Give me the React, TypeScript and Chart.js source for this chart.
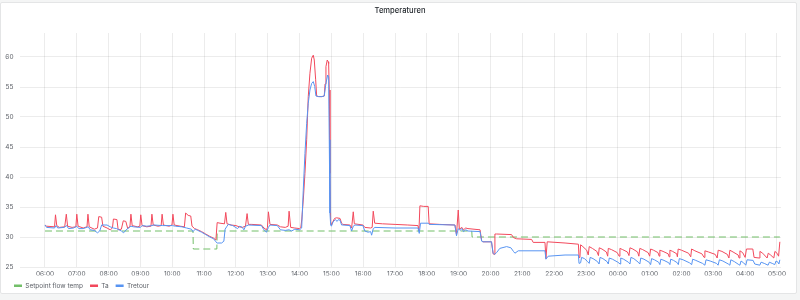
import { useEffect, useRef } from 'react';
import { Chart, registerables } from 'chart.js';

Chart.register(...registerables);

const TITLE = 'Temperaturen';
const seriesNames = ['Setpoint flow temp', 'Ta', 'Tretour'];
const seriesColors = ['#73BF69', '#F2495C', '#5794F2'];

const xTickHours = [6, 7, 8, 9, 10, 11, 12, 13, 14, 15, 16, 17, 18, 19, 20, 21, 22, 23, 24, 25, 26, 27, 28, 29];
const xTickLabels = ['06:00', '07:00', '08:00', '09:00', '10:00', '11:00', '12:00', '13:00', '14:00', '15:00', '16:00', '17:00', '18:00', '19:00', '20:00', '21:00', '22:00', '23:00', '00:00', '01:00', '02:00', '03:00', '04:00', '05:00'];
const yTickValues = [25, 30, 35, 40, 45, 50, 55, 60];

// [hour since 00:00 of first day, °C]
const setpointData: [number, number][] = [
  [6.0, 31], [10.65, 31], [10.66, 28], [11.40, 28], [11.41, 31], [19.41, 31], [19.42, 30], [29.09, 30],
];

const taData: [number, number][] = [
  [6.00, 32.0], [6.05, 31.8], [6.30, 31.7], [6.33, 33.7], [6.37, 31.9], [6.45, 31.6], [6.62, 31.7], [6.67, 33.8], [6.71, 31.8],
  [6.85, 31.6], [6.97, 31.7], [7.00, 33.8], [7.04, 31.8], [7.20, 31.5], [7.32, 31.7], [7.35, 33.8], [7.39, 31.7], [7.55, 31.3],
  [7.65, 31.5], [7.69, 33.4], [7.78, 33.3], [7.82, 31.8], [7.95, 31.5], [8.05, 31.2], [8.12, 31.5], [8.15, 33.0], [8.26, 32.9],
  [8.30, 31.2], [8.40, 31.3], [8.46, 32.7], [8.54, 32.6], [8.60, 31.4], [8.67, 31.8], [8.70, 33.8], [8.74, 31.9], [8.90, 31.7],
  [8.98, 31.8], [9.01, 33.7], [9.05, 31.9], [9.20, 31.7], [9.33, 31.8], [9.36, 33.8], [9.40, 32.0], [9.55, 31.8], [9.65, 31.9],
  [9.68, 33.8], [9.72, 32.0], [9.90, 31.8], [9.99, 32.0], [10.02, 33.8], [10.06, 32.0], [10.25, 31.8], [10.38, 31.7], [10.42, 34.0],
  [10.50, 33.6], [10.58, 33.5], [10.62, 31.8], [10.70, 31.4], [10.80, 31.2], [10.92, 30.9], [11.05, 30.5], [11.18, 30.1],
  [11.30, 29.8], [11.37, 29.5], [11.41, 32.4], [11.50, 32.3], [11.64, 32.2], [11.68, 34.1], [11.72, 32.2], [11.85, 32.0],
  [12.00, 31.9], [12.10, 31.7], [12.20, 31.6], [12.30, 31.8], [12.35, 33.9], [12.39, 32.1], [12.50, 32.1], [12.80, 32.0],
  [12.88, 31.5], [12.96, 31.2], [12.99, 31.6], [13.02, 34.2], [13.07, 32.1], [13.30, 32.0], [13.40, 31.7], [13.55, 31.6],
  [13.64, 31.8], [13.67, 34.3], [13.72, 31.6], [13.85, 31.5], [14.00, 31.4], [14.04, 31.6],
  [14.07, 33.0], [14.12, 36.5], [14.168, 40.6], [14.222, 46.2], [14.272, 53.4], [14.325, 57.3], [14.379, 59.8], [14.43, 60.3],
  [14.461, 59.5], [14.505, 56.2], [14.536, 53.5], [14.60, 53.4], [14.70, 53.4], [14.775, 53.5], [14.80, 55.5], [14.828, 58.4],
  [14.869, 59.5], [14.90, 59.2], [14.913, 58.9], [14.932, 54.5], [14.954, 40.6], [14.976, 32.6], [15.00, 32.0],
  [15.05, 32.6], [15.10, 33.1], [15.16, 33.2], [15.27, 33.1], [15.32, 32.3], [15.36, 32.1], [15.58, 32.0], [15.635, 31.5],
  [15.686, 34.2], [15.72, 32.2], [15.99, 32.0], [16.05, 31.6], [16.23, 31.5], [16.28, 31.6], [16.314, 34.3], [16.36, 32.3],
  [16.60, 32.2], [17.00, 32.1], [17.40, 32.0], [17.72, 31.9], [17.75, 31.0], [17.78, 35.2], [17.90, 35.1], [18.04, 35.1],
  [18.07, 32.2], [18.40, 32.1], [18.88, 32.0], [18.93, 30.4], [18.985, 34.5], [19.02, 31.3], [19.10, 31.6], [19.15, 31.2],
  [19.22, 31.5], [19.29, 31.4], [19.67, 31.2], [19.72, 29.4], [19.76, 29.2], [20.03, 29.2], [20.08, 27.2], [20.115, 27.1],
  [20.137, 30.5], [20.19, 30.5], [20.66, 30.4], [20.72, 29.9], [20.82, 29.7], [21.29, 29.6], [21.34, 29.1], [21.71, 29.1],
  [21.74, 26.4], [21.78, 29.2], [22.34, 29.0], [22.76, 28.8],
  [22.78, 26.6], [22.81, 26.8], [22.83, 28.7], [22.90, 28.4], [23.02, 27.8], [23.07, 27.0],
  [23.10, 28.4], [23.20, 28.1], [23.34, 27.6], [23.39, 26.9],
  [23.415, 28.2], [23.50, 28.0], [23.64, 27.5], [23.68, 26.8],
  [23.70, 28.1], [23.80, 27.9], [23.98, 27.4], [24.04, 26.8],
  [24.065, 28.1], [24.15, 27.9], [24.30, 27.5], [24.35, 26.9],
  [24.38, 28.2], [24.47, 28.0], [24.62, 27.5], [24.66, 26.8],
  [24.69, 28.1], [24.78, 27.9], [24.95, 27.4], [25.00, 26.8],
  [25.03, 28.0], [25.12, 27.8], [25.26, 27.4], [25.30, 26.8],
  [25.32, 27.8], [25.42, 27.6], [25.58, 27.2], [25.61, 26.7],
  [25.635, 27.8], [25.72, 27.6], [25.85, 27.2], [25.87, 26.7],
  [25.896, 28.0], [26.00, 27.8], [26.22, 27.3], [26.29, 26.7],
  [26.317, 28.0], [26.42, 27.7], [26.64, 27.2], [26.71, 26.6],
  [26.735, 27.7], [26.85, 27.5], [27.06, 27.1], [27.12, 26.5],
  [27.153, 27.8], [27.27, 27.6], [27.44, 27.1], [27.49, 26.5],
  [27.52, 27.8], [27.62, 27.5], [27.78, 27.0], [27.81, 26.5],
  [27.835, 27.7], [27.92, 27.4], [28.00, 26.6], [28.04, 28.0], [28.24, 28.0], [28.28, 26.6], [28.44, 26.5],
  [28.464, 27.6], [28.55, 27.3], [28.69, 26.5], [28.725, 27.3], [28.80, 27.0], [28.90, 26.5],
  [28.935, 27.6], [29.00, 27.3], [29.05, 26.8], [29.09, 29.2],
];

const tretourData: [number, number][] = [
  [6.00, 32.0], [6.05, 31.6], [6.30, 31.5], [6.35, 31.9], [6.40, 31.5], [6.60, 31.6], [6.68, 31.9], [6.74, 31.4], [6.90, 31.5],
  [7.00, 31.8], [7.06, 31.4], [7.20, 31.4], [7.36, 31.7], [7.42, 31.2], [7.55, 31.1], [7.65, 30.7], [7.72, 31.0], [7.78, 32.0],
  [7.95, 32.0], [8.05, 31.7], [8.15, 31.5], [8.25, 31.4], [8.40, 31.0], [8.47, 30.7], [8.55, 31.2], [8.70, 31.8], [8.78, 31.7],
  [9.00, 31.6], [9.05, 31.9], [9.20, 31.8], [9.36, 31.9], [9.42, 32.0], [9.70, 31.9], [10.00, 31.9], [10.10, 31.8], [10.30, 31.7],
  [10.45, 31.5], [10.60, 31.3], [10.65, 30.9], [10.72, 31.3], [10.80, 31.1], [10.92, 30.8], [11.05, 30.4], [11.18, 30.0],
  [11.30, 29.7], [11.37, 29.2], [11.41, 29.0], [11.55, 29.0], [11.62, 29.3], [11.66, 31.3], [11.72, 31.8], [11.76, 32.1],
  [11.90, 31.9], [12.05, 31.4], [12.12, 31.8], [12.20, 31.6], [12.25, 31.2], [12.30, 31.8], [12.40, 32.0], [12.80, 31.9],
  [12.88, 31.2], [12.96, 30.8], [13.02, 31.6], [13.07, 32.0], [13.30, 31.9], [13.40, 31.2], [13.55, 31.1], [13.67, 31.2],
  [13.75, 31.0], [13.85, 31.3], [14.00, 31.2], [14.065, 31.5],
  [14.115, 37.8], [14.168, 43.9], [14.222, 48.9], [14.272, 52.3], [14.325, 54.5], [14.379, 55.6], [14.43, 55.9], [14.474, 55.1],
  [14.514, 53.5], [14.60, 53.4], [14.70, 53.4], [14.775, 53.5], [14.828, 55.6], [14.882, 57.0], [14.913, 56.7], [14.932, 46.2],
  [14.954, 34.0], [14.976, 32.0], [15.00, 31.8],
  [15.05, 32.5], [15.12, 32.9], [15.18, 32.6], [15.22, 32.9], [15.27, 32.8], [15.32, 32.0], [15.36, 32.0], [15.58, 31.9],
  [15.635, 31.0], [15.686, 31.8], [15.74, 32.0], [15.99, 31.9], [16.05, 31.0], [16.15, 30.8], [16.232, 30.9], [16.263, 30.3],
  [16.314, 31.4], [16.367, 31.6], [17.00, 31.5], [17.72, 31.5], [17.76, 30.6], [17.80, 32.3], [18.04, 32.3], [18.07, 32.1],
  [18.88, 32.0], [18.93, 30.2], [18.985, 31.4], [19.04, 31.1], [19.10, 31.4], [19.15, 30.9], [19.22, 31.2], [19.29, 31.0],
  [19.67, 30.9], [19.72, 29.3], [19.76, 29.2], [20.03, 29.2], [20.08, 27.3], [20.115, 27.1], [20.19, 27.4], [20.29, 28.1],
  [20.505, 28.4], [20.64, 28.2], [20.72, 27.6], [20.766, 27.3], [20.87, 27.7], [21.71, 27.7], [21.74, 26.3], [21.81, 26.8],
  [22.34, 27.0], [22.76, 27.0],
  [22.78, 25.6], [22.83, 25.7], [22.86, 26.6], [22.95, 26.4], [23.05, 25.9], [23.10, 25.6],
  [23.13, 26.6], [23.22, 26.4], [23.36, 25.9], [23.41, 25.5],
  [23.44, 26.6], [23.53, 26.4], [23.66, 25.9], [23.70, 25.5],
  [23.73, 26.5], [23.83, 26.3], [24.00, 25.8], [24.07, 25.5],
  [24.09, 26.5], [24.18, 26.3], [24.33, 25.8], [24.38, 25.5],
  [24.41, 26.6], [24.50, 26.4], [24.64, 25.8], [24.69, 25.5],
  [24.72, 26.5], [24.82, 26.3], [24.98, 25.8], [25.03, 25.4],
  [25.06, 26.4], [25.15, 26.2], [25.28, 25.8], [25.32, 25.4],
  [25.35, 26.3], [25.45, 26.1], [25.60, 25.7], [25.635, 25.4],
  [25.66, 26.3], [25.75, 26.1], [25.87, 25.7], [25.90, 25.4],
  [25.93, 26.4], [26.05, 26.2], [26.25, 25.7], [26.32, 25.4],
  [26.35, 26.3], [26.45, 26.1], [26.66, 25.6], [26.735, 25.3],
  [26.77, 26.2], [26.90, 26.0], [27.10, 25.6], [27.15, 25.3],
  [27.19, 26.2], [27.30, 26.0], [27.47, 25.5], [27.52, 25.3],
  [27.55, 26.2], [27.66, 25.9], [27.80, 25.4], [27.835, 25.3],
  [27.87, 26.0], [27.95, 25.7], [28.02, 25.3], [28.06, 26.2], [28.25, 26.1], [28.30, 25.5], [28.46, 25.3],
  [28.50, 25.8], [28.60, 25.6], [28.72, 25.3], [28.76, 25.8], [28.85, 25.6], [28.93, 25.4],
  [28.97, 26.0], [29.03, 25.8], [29.06, 25.5], [29.09, 26.2],
];

const GRID = 'rgba(0,0,0,0.075)';
const TEXT = '#5b5f66';
const FONT = 'Inter';

const toXY = (arr: [number, number][]) => arr.map(([x, y]) => ({ x, y }));

const titlePlugin = {
  id: 'panelTitle',
  afterDraw(chart: any) {
    const ctx = chart.ctx;
    ctx.save();
    ctx.font = `500 7.6px ${FONT}`;
    ctx.fillStyle = '#24292e';
    ctx.textAlign = 'center';
    ctx.textBaseline = 'middle';
    ctx.fillText(TITLE, 400, 11);
    ctx.restore();
  },
};

// shift the legend row so that it starts under the panel's inner margin
const legendOffsetPlugin = {
  id: 'legendOffset',
  afterLayout(chart: any) {
    if (chart.legend) {
      chart.legend.left += 7;
    }
  },
};

export default function App() {
  const ref = useRef<HTMLCanvasElement | null>(null);

  useEffect(() => {
    if (!ref.current) return;
    const tickFont = { family: FONT, size: 6.5 };
    const chart = new Chart(ref.current, {
      type: 'line',
      data: {
        datasets: [
          {
            label: seriesNames[0],
            data: toXY(setpointData),
            borderColor: seriesColors[0],
            backgroundColor: seriesColors[0],
            borderWidth: 1,
            borderDash: [7, 4],
            pointRadius: 0,
            tension: 0,
            order: 3,
          },
          {
            label: seriesNames[1],
            data: toXY(taData),
            borderColor: seriesColors[1],
            backgroundColor: seriesColors[1],
            borderWidth: 1,
            pointRadius: 0,
            tension: 0,
            order: 2,
          },
          {
            label: seriesNames[2],
            data: toXY(tretourData),
            borderColor: seriesColors[2],
            backgroundColor: seriesColors[2],
            borderWidth: 1,
            pointRadius: 0,
            tension: 0,
            order: 1,
          },
        ],
      },
      options: {
        animation: false,
        responsive: false,
        layout: { padding: { left: 0, right: 19, top: 33, bottom: 1 } },
        plugins: {
          title: { display: false },
          tooltip: { enabled: false },
          legend: {
            display: true,
            position: 'bottom',
            align: 'start',
            labels: {
              boxWidth: 8,
              boxHeight: 2.5,
              padding: 7,
              color: TEXT,
              font: { family: FONT, size: 6.5 },
              generateLabels: () =>
                seriesNames.map((text, i) => ({
                  text,
                  fillStyle: seriesColors[i],
                  strokeStyle: seriesColors[i],
                  lineWidth: 0,
                  hidden: false,
                  datasetIndex: i,
                  fontColor: TEXT,
                })),
            },
          },
        },
        scales: {
          x: {
            type: 'linear',
            min: 5.215,
            max: 29.126,
            afterBuildTicks: (s: any) => {
              s.ticks = xTickHours.map((v) => ({ value: v }));
            },
            afterFit: (s: any) => {
              s.height = 8.5;
            },
            grid: { color: GRID, drawTicks: false },
            border: { display: false },
            ticks: {
              autoSkip: false,
              maxRotation: 0,
              padding: 3,
              color: TEXT,
              font: tickFont,
              callback: (_v: any, i: number) => xTickLabels[i],
            },
          },
          y: {
            type: 'linear',
            min: 25,
            max: 64,
            afterBuildTicks: (s: any) => {
              s.ticks = yTickValues.map((v) => ({ value: v }));
            },
            afterFit: (s: any) => {
              s.width = 20;
            },
            grid: { color: GRID, drawTicks: false },
            border: { display: false },
            ticks: { padding: 6.5, color: TEXT, font: tickFont },
          },
        },
      },
      plugins: [titlePlugin, legendOffsetPlugin],
    } as any);
    return () => chart.destroy();
  }, []);

  return (
    <div style={{ position: 'fixed', left: 0, top: 0, width: 800, height: 300, background: '#f4f5f5', overflow: 'hidden' }}>
      <div
        style={{
          position: 'absolute',
          left: 0,
          top: 2,
          width: 795,
          height: 290,
          background: '#ffffff',
          border: '1px solid #e4e5e6',
          borderRadius: 2,
        }}
      />
      <canvas ref={ref} width={800} height={300} style={{ position: 'absolute', left: 0, top: 0, width: 800, height: 300 }} />
    </div>
  );
}
